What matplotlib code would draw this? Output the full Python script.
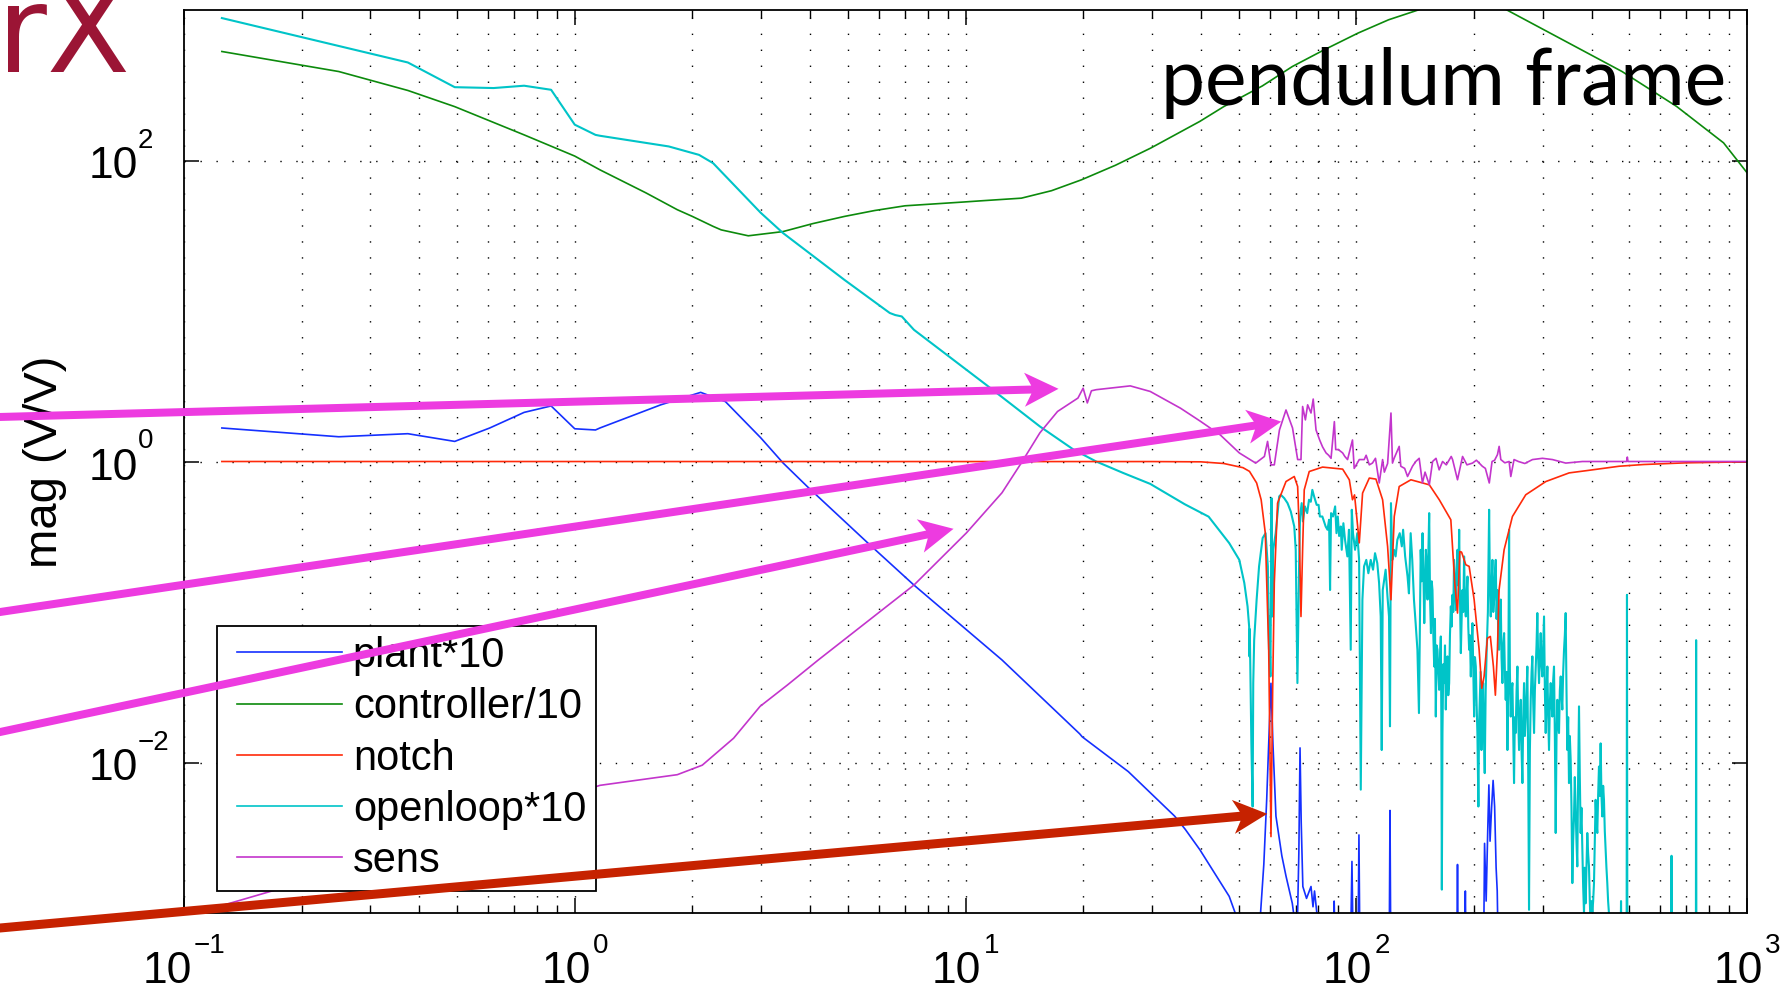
import matplotlib
matplotlib.use("Agg")
import matplotlib.pyplot as plt
from matplotlib.patches import FancyArrow
from matplotlib.lines import Line2D
from matplotlib.legend_handler import HandlerLine2D
from matplotlib.ticker import LogLocator, FixedLocator, NullLocator
from matplotlib.transforms import blended_transform_factory, offset_copy, IdentityTransform
from matplotlib.font_manager import FontProperties
from matplotlib.textpath import TextPath

W, H, DPI = 1786, 990, 100

# ---------------------------------------------------------------------------
# Magnitude responses (V/V) against frequency (Hz), as (freq, mag) pairs
# ---------------------------------------------------------------------------
plant = [
    (0.125, 1.67), (0.249, 1.46), (0.374, 1.53), (0.493, 1.36), (0.606, 1.67),
    (0.742, 2.12), (0.87, 2.34), (1.0, 1.65), (1.13, 1.62), (1.16, 1.67),
    (1.66, 2.38), (2.10, 2.88), (2.43, 2.5), (2.99, 1.44), (3.41, 0.98),
    (3.94, 0.68), (5.62, 0.288), (7.38, 0.151), (12.4, 0.048), (19.6, 0.0155),
    (19.9, 0.0148), (26.1, 0.0087), (34.3, 0.0044), (36.5, 0.0036),
    (39.8, 0.00263), (47.3, 0.00129), (49.0, 0.001), (52.0, 0.0006),
    (56.9, 0.001), (58.0, 0.0021), (59.0, 0.0057), (59.7, 0.0134),
    (60.5, 0.0336), (61.2, 0.0134), (62.3, 0.0044), (64.5, 0.0024),
    (66.1, 0.00176), (68.6, 0.00116), (69.5, 0.0009), (70.5, 0.0006),
    (71.3, 0.0025), (71.8, 0.0125), (72.3, 0.004), (73.0, 0.0015),
    (74.6, 0.00125), (76.6, 0.0015), (77.5, 0.0011), (78.2, 0.0014),
    (80.0, 0.0008), (87.4, 0.0007), (87.8, 0.0012), (88.2, 0.0007),
    (96.8, 0.0007), (97.5, 0.0022), (98.1, 0.0007), (101.1, 0.0007),
    (101.6, 0.0033), (102.1, 0.0007), (121.5, 0.0007), (122.0, 0.0048),
    (122.5, 0.0007), (181.0, 0.0007), (181.6, 0.0021), (182.2, 0.0007),
    (189.5, 0.0007), (190.2, 0.0014), (190.8, 0.0007), (212.0, 0.0007),
    (213.0, 0.0029), (215.0, 0.0012), (217.0, 0.0035), (218.5, 0.0071),
    (220.0, 0.003), (222.0, 0.005), (224.0, 0.0076), (226.0, 0.0051),
    (228.0, 0.002), (229.5, 0.0014), (230.5, 0.0007), (1000.0, 0.0007),
]

controller = [
    (0.125, 530), (0.249, 390), (0.374, 292), (0.493, 228), (0.742, 148),
    (1.0, 107), (1.16, 86.7), (1.52, 61), (1.83, 47.1), (2.0, 42.5),
    (2.26, 36.5), (2.37, 34.6), (2.78, 31.6), (3.41, 33.7), (4.07, 38.1),
    (4.9, 42.5), (5.85, 46.5), (7.0, 50), (9.9, 53), (11.0, 54),
    (13.9, 56.2), (16.6, 63), (19.8, 74.4), (24.2, 93), (29.8, 121),
    (39.8, 182), (45.8, 228), (57.5, 313), (68.6, 421), (82.8, 544),
    (101, 702), (121, 861), (144, 1000), (190, 1450), (243, 1000),
    (479, 390), (660, 229), (871, 131), (1000, 83),
]

notch = [
    (0.125, 1.0), (30.0, 0.999), (40.0, 0.995), (45.8, 0.97), (51.3, 0.91),
    (53.3, 0.86), (55.6, 0.72), (57.1, 0.557), (58.5, 0.336), (59.7, 0.0561),
    (60.5, 0.00322), (61.1, 0.03), (61.7, 0.156), (62.9, 0.529), (66.1, 0.736),
    (69.4, 0.795), (70.8, 0.682), (71.5, 0.336), (72.2, 0.0933), (72.9, 0.259),
    (73.6, 0.648), (75.8, 0.858), (82.0, 0.918), (92.3, 0.890), (96.0, 0.756),
    (97.8, 0.557), (99.0, 0.6), (101.8, 0.288), (103.8, 0.617), (108.0, 0.776),
    (112.3, 0.764), (116.8, 0.557), (120.3, 0.272), (122.7, 0.1205),
    (125.1, 0.431), (128.8, 0.682), (138.0, 0.756), (153.8, 0.700),
    (163.1, 0.557), (174.6, 0.410), (178.7, 0.156), (181.6, 0.0984),
    (184.1, 0.252), (186.0, 0.25), (190.7, 0.206), (194.5, 0.201),
    (200.3, 0.121), (206.3, 0.0561), (209.5, 0.0311), (212.4, 0.0373),
    (216.6, 0.067), (220.4, 0.0688), (224.4, 0.0434), (227.0, 0.028),
    (229.8, 0.0561), (232.0, 0.140), (239.0, 0.259), (251.0, 0.431),
    (271.5, 0.601), (305.6, 0.736), (350.6, 0.84), (389.0, 0.87),
    (470.6, 0.93), (544.0, 0.955), (700.0, 0.98), (1000.0, 0.995),
]

openloop = [
    (0.125, 884), (0.374, 448), (0.493, 307), (0.62, 303), (0.742, 314),
    (0.87, 295), (1.0, 173), (1.13, 148), (1.16, 146), (1.74, 124),
    (2.08, 109), (2.26, 96), (2.99, 45), (3.41, 33), (4.9, 16.1), (6.4, 9.7),
    (6.61, 9.4), (6.87, 9.2), (7.38, 7.5), (11.3, 3.23), (15.5, 1.71),
    (18.9, 1.2), (21.6, 1.0), (25.3, 0.84), (29.7, 0.71), (36.4, 0.52),
    (41.9, 0.43), (45.8, 0.32), (47.3, 0.287), (50.2, 0.222), (51.7, 0.156),
    (52.7, 0.109), (53.2, 0.080), (53.3, 0.0507), (53.4, 0.077),
    (53.9, 0.0134), (54.3, 0.0051), (54.5, 0.0337), (54.8, 0.0653),
    (55.6, 0.121), (56.4, 0.201), (57.6, 0.310), (58.6, 0.334), (59.0, 0.259),
    (59.4, 0.201), (59.8, 0.0561), (59.9, 0.0934), (60.3, 0.0373),
    (60.5, 0.156), (60.7, 0.571), (61.0, 0.0934), (61.3, 0.259),
    (62.2, 0.334), (63.5, 0.586), (64.1, 0.601), (65.4, 0.571), (66.7, 0.529),
    (68.0, 0.465), (69.4, 0.370), (70.0, 0.259), (70.7, 0.0337),
    (71.4, 0.201), (71.8, 0.431), (72.5, 0.529), (73.0, 0.400), (73.9, 0.503),
    (74.9, 0.454), (75.7, 0.557), (76.5, 0.54), (77.2, 0.648), (78.0, 0.586),
    (79.2, 0.515), (80.1, 0.515), (80.7, 0.431), (81.9, 0.431), (83.5, 0.370),
    (84.4, 0.352), (85.2, 0.410), (85.7, 0.140), (86.2, 0.454), (87.2, 0.431),
    (88.3, 0.503), (89.0, 0.334), (89.7, 0.431), (90.4, 0.32), (91.3, 0.370),
    (91.8, 0.259), (92.7, 0.389), (93.6, 0.302), (94.9, 0.234), (95.8, 0.352),
    (96.8, 0.0561), (97.4, 0.478), (98.1, 0.334), (99.3, 0.259),
    (100.6, 0.334), (101.7, 0.222), (102.7, 0.0066), (103.7, 0.121),
    (104.7, 0.201), (106.1, 0.222), (107.4, 0.181), (108.9, 0.222),
    (110.4, 0.191), (111.7, 0.246), (113.2, 0.211), (114.4, 0.156),
    (115.5, 0.0934), (116.2, 0.0121), (116.9, 0.140), (118.2, 0.172),
    (118.9, 0.191), (120.2, 0.127), (121.3, 0.0934), (122.0, 0.0174),
    (122.7, 0.529), (123.7, 0.222), (124.9, 0.259), (126.1, 0.234),
    (127.4, 0.302), (129.2, 0.334), (130.8, 0.273), (131.8, 0.352),
    (133.4, 0.234), (135.3, 0.172), (136.4, 0.133), (137.8, 0.334),
    (139.1, 0.222), (140.5, 0.121), (141.9, 0.0843), (143.4, 0.0561),
    (144.7, 0.0213), (146.2, 0.259), (147.0, 0.16), (147.8, 0.334),
    (148.5, 0.19), (149.3, 0.0843), (150.0, 0.15), (150.7, 0.259),
    (151.5, 0.2), (152.2, 0.121), (153.0, 0.26), (153.7, 0.454),
    (154.5, 0.12), (155.3, 0.0724), (156.0, 0.16), (156.7, 0.140),
    (157.5, 0.07), (158.3, 0.0434), (159.0, 0.09), (159.8, 0.0202),
    (160.6, 0.06), (161.4, 0.0561), (162.2, 0.04), (163.0, 0.0304),
    (163.8, 0.05), (164.6, 0.0688), (165.1, 0.02), (165.6, 0.00143),
    (166.2, 0.0157), (167.0, 0.045), (167.9, 0.0337), (168.7, 0.06),
    (169.5, 0.0225), (170.3, 0.04), (171.2, 0.0507), (172.0, 0.028),
    (172.9, 0.0337), (173.7, 0.07), (174.6, 0.109), (175.4, 0.08),
    (176.3, 0.13), (177.1, 0.1), (178.0, 0.222), (178.9, 0.15),
    (179.8, 0.103), (180.7, 0.18), (181.6, 0.259), (182.5, 0.15),
    (183.4, 0.352), (184.3, 0.12), (185.2, 0.0533), (186.1, 0.09),
    (187.0, 0.140), (187.9, 0.1), (188.8, 0.234), (189.7, 0.12),
    (190.7, 0.0934), (191.6, 0.13), (192.6, 0.172), (193.5, 0.08),
    (194.5, 0.0561), (195.4, 0.07), (196.4, 0.0373), (197.3, 0.06),
    (198.3, 0.0843), (199.3, 0.04), (200.3, 0.0202), (201.3, 0.05),
    (202.3, 0.0434), (203.2, 0.025), (204.2, 0.0157), (205.4, 0.0051),
    (206.2, 0.018), (207.1, 0.0261), (208.1, 0.04), (209.1, 0.0121),
    (210.1, 0.022), (211.2, 0.0337), (212.2, 0.015), (213.2, 0.0085),
    (214.4, 0.03), (215.7, 0.0561), (217.2, 0.1), (218.8, 0.478),
    (219.8, 0.15), (220.9, 0.0934), (222.0, 0.15), (223.1, 0.222),
    (224.2, 0.1), (225.3, 0.121), (226.4, 0.18), (227.5, 0.222),
    (228.6, 0.09), (229.8, 0.140), (230.9, 0.07), (232.0, 0.0561),
    (233.1, 0.09), (234.3, 0.121), (235.4, 0.05), (236.6, 0.0337),
    (237.8, 0.06), (239.0, 0.0724), (240.1, 0.04), (241.3, 0.0261),
    (242.5, 0.04), (243.7, 0.0121), (244.9, 0.03), (246.1, 0.352),
    (247.3, 0.04), (248.5, 0.0202), (249.7, 0.03), (251.0, 0.0337),
    (252.2, 0.015), (253.4, 0.0073), (254.6, 0.02), (255.9, 0.0157),
    (257.2, 0.03), (258.5, 0.0434), (259.7, 0.02), (261.0, 0.0121),
    (262.3, 0.02), (263.6, 0.0261), (264.9, 0.012), (266.2, 0.0073),
    (267.5, 0.02), (268.8, 0.0337), (270.1, 0.015), (271.5, 0.0202),
    (272.8, 0.03), (274.1, 0.0434), (275.4, 0.01), (276.8, 0.00105),
    (278.2, 0.012), (279.6, 0.0261), (281.0, 0.04), (282.3, 0.0507),
    (283.7, 0.025), (285.1, 0.0157), (286.5, 0.03), (287.9, 0.0434),
    (289.3, 0.06), (290.7, 0.0984), (292.1, 0.05), (293.6, 0.0337),
    (295.0, 0.05), (296.5, 0.0724), (297.9, 0.045), (299.4, 0.0373),
    (300.9, 0.06), (302.4, 0.0934), (303.9, 0.03), (305.4, 0.0157),
    (306.9, 0.03), (308.4, 0.0434), (309.9, 0.02), (311.4, 0.0121),
    (313.0, 0.025), (314.5, 0.0337), (316.0, 0.025), (317.6, 0.0202),
    (319.1, 0.035), (320.7, 0.0434), (322.3, 0.015), (323.9, 0.0034),
    (325.5, 0.015), (327.1, 0.0261), (328.7, 0.018), (330.3, 0.0157),
    (331.9, 0.03), (333.6, 0.0373), (335.2, 0.028), (336.8, 0.0225),
    (338.5, 0.04), (340.2, 0.0561), (341.8, 0.07), (343.5, 0.0984),
    (345.2, 0.03), (346.9, 0.0121), (348.6, 0.02), (350.3, 0.0073),
    (352.0, 0.015), (353.8, 0.0104), (355.5, 0.005), (357.3, 0.00158),
    (359.0, 0.003), (360.8, 0.00438), (362.5, 0.008), (364.3, 0.00485),
    (366.1, 0.003), (367.9, 0.00204), (369.7, 0.008), (371.6, 0.0236),
    (373.4, 0.008), (375.2, 0.0034), (377.0, 0.005), (378.9, 0.00263),
    (380.8, 0.0015), (382.7, 0.001), (384.5, 0.002), (386.4, 0.00116),
    (388.3, 0.002), (390.2, 0.0034), (392.1, 0.0025), (394.1, 0.00204),
    (396.0, 0.0012), (398.0, 0.0008), (399.9, 0.0012), (401.9, 0.001),
    (403.9, 0.0012), (405.9, 0.00158), (407.8, 0.003), (409.8, 0.00565),
    (411.8, 0.004), (413.9, 0.0034), (415.9, 0.006), (418.0, 0.0094),
    (420.0, 0.006), (422.1, 0.0134), (424.2, 0.006), (426.3, 0.00438),
    (428.4, 0.007), (430.5, 0.00565), (432.6, 0.0035), (434.7, 0.00263),
    (436.8, 0.002), (439.0, 0.00158), (441.1, 0.0012), (443.3, 0.001),
    (447.0, 0.0007), (475.0, 0.0007), (476.0, 0.0012), (477.0, 0.0007),
    (492.0, 0.0007), (493.0, 0.13), (494.0, 0.0007), (640.0, 0.0007),
    (641.0, 0.0024), (642.0, 0.0007), (740.0, 0.0007), (741.0, 0.065),
    (742.0, 0.0007), (1000.0, 0.0007),
]

sens = [
    (0.125, 0.00112), (0.171, 0.00142), (1.16, 0.00705), (1.83, 0.0083),
    (2.12, 0.0096), (2.55, 0.0145), (2.98, 0.0236), (3.5, 0.0327),
    (4.2, 0.048), (7.38, 0.151), (10.06, 0.336), (12.4, 0.62), (13.9, 0.98),
    (15.5, 1.55), (17.2, 2.15), (19.4, 2.64), (20.0, 3.07), (20.5, 2.45),
    (21.0, 2.95), (21.6, 3.0), (26.4, 3.18), (29.7, 2.92), (35.5, 2.26),
    (39.8, 1.86), (44.9, 1.5), (50.2, 1.14), (55.3, 0.976), (58.2, 1.08),
    (59.3, 1.36), (60.5, 0.95), (61.7, 0.95), (63.6, 1.62), (66.1, 2.2),
    (68.7, 1.67), (70.8, 1.03), (72.2, 1.03), (72.9, 2.32), (74.1, 1.89),
    (75.1, 2.38), (76.6, 2.1), (77.6, 2.6), (78.9, 1.62), (80.6, 1.39),
    (82.0, 1.25), (83.7, 1.14), (85.0, 1.1), (86.2, 1.05), (87.9, 1.84),
    (88.6, 1.2), (90.0, 1.2), (92.3, 1.14), (93.5, 1.08), (95.0, 1.03),
    (97.8, 1.39), (98.8, 0.9), (100.0, 0.95), (101.8, 1.03), (104.8, 1.03),
    (106.0, 1.1), (108.0, 0.95), (110.0, 0.976), (112.0, 1.05),
    (114.5, 0.72), (116.8, 1.03), (118.0, 0.85), (120.3, 0.97),
    (122.7, 2.1), (123.8, 0.976), (125.0, 1.05), (128.8, 1.26), (130.0, 0.93),
    (133.0, 0.9), (135.3, 0.795), (139.3, 0.93), (142.0, 1.0), (144.9, 1.05),
    (147.7, 0.72), (150.0, 0.85), (153.8, 0.70), (156.8, 1.0), (160.0, 1.05),
    (163.0, 0.88), (166.3, 1.0), (170.0, 0.95), (175.0, 1.08), (176.4, 1.03),
    (181.6, 0.756), (187.1, 1.08), (192.0, 0.95), (198.4, 0.976),
    (203.0, 1.02), (210.2, 0.93), (214.0, 0.9), (219.0, 0.72), (222.6, 1.0),
    (226.0, 1.02), (229.8, 1.11), (232.1, 1.26), (234.4, 1.03), (240.0, 0.98),
    (246.2, 1.0), (248.6, 0.795), (253.4, 1.03), (260.0, 1.0), (270.0, 0.97),
    (282.5, 1.03), (299.6, 1.05), (317.8, 1.03), (343.7, 0.976),
    (379.2, 1.0), (492.0, 1.0), (494.0, 1.07), (496.0, 1.0), (700.0, 1.0),
    (1000.0, 1.0),
]

series_labels = ["plant*10", "controller/10", "notch", "openloop*10", "sens"]
x_tick_exponents = [-1, 0, 1, 2, 3]
y_tick_exponents = [-2, 0, 2]

# Callout arrows: tail on the left edge (figure pixels from top), tip in data units
callouts = [
    {"tail": (-20, 417.5), "tip": (17.3, 3.04), "color": "#ED3BE0", "width": 8},
    {"tail": (-20, 615.0), "tip": (64.3, 1.84), "color": "#ED3BE0", "width": 8},
    {"tail": (-20, 736.3), "tip": (9.32, 0.357), "color": "#ED3BE0", "width": 8},
    {"tail": (-20, 929.8), "tip": (59.2, 0.00456), "color": "#C62200", "width": 9},
]

# ---------------------------------------------------------------------------
plt.rcParams["lines.solid_joinstyle"] = "round"
SANS = "Liberation Sans"
TITLE_FONT = "Lato"
TAG_FONT = "DejaVu Sans"

fig = plt.figure(figsize=(W / DPI, H / DPI), dpi=DPI)
ax = fig.add_axes([184 / W, 1 - 913 / H, (1747 - 184) / W, (913 - 10) / H])
ax.set_xscale("log")
ax.set_yscale("log")
ax.set_xlim(1e-1, 1e3)
ax.set_ylim(1e-3, 1e3)

styles = [
    ("#1530ff", 2.0, 1.2),   # plant
    ("#0c8a0c", 2.1, 1.2),   # controller
    ("#ff2a0a", 2.3, 1.2),   # notch
    ("#00c4c8", 2.2, 1.5),   # openloop
    ("#c335cc", 2.4, 1.2),   # sens
]
handles = []
for data, (color, z, lw) in zip([plant, controller, notch, openloop, sens], styles):
    f = [p[0] for p in data]
    m = [p[1] for p in data]
    (ln,) = ax.plot(f, m, color=color, lw=lw, zorder=z)
    handles.append(ln)

# dotted grid: every decade and sub-decade in x, major ticks only in y
grid_kw = dict(color="black", linewidth=1.0, linestyle=(0, (1, 10.5)))
ax.grid(True, which="major", axis="both", **grid_kw)
ax.grid(True, which="minor", axis="x", **grid_kw)
ax.set_axisbelow(True)

ax.xaxis.set_major_locator(LogLocator(base=10, numticks=20))
ax.xaxis.set_minor_locator(LogLocator(base=10, subs=range(2, 10), numticks=20))
ax.yaxis.set_major_locator(FixedLocator([10.0 ** e for e in y_tick_exponents]))
ax.yaxis.set_minor_locator(NullLocator())
ax.tick_params(which="both", direction="in", top=True, right=True,
               labelbottom=False, labelleft=False, color="black")
ax.tick_params(which="major", length=11, width=1.1)
ax.tick_params(which="minor", length=5.5, width=1.0)
for s in ax.spines.values():
    s.set_linewidth(1.3)

renderer = fig.canvas.get_renderer()


def text_width(s, size, family):
    t = fig.text(0, 0, s, fontsize=size, family=family)
    w = t.get_window_extent(renderer).width
    t.remove()
    return w


def exp_str(e):
    return str(e).replace("-", "\u2212")


BASE, EXP = 32, 20
w10 = text_width("10", BASE, SANS)

# x tick labels: "10" with a raised exponent, centred on the tick as a whole
tx = blended_transform_factory(ax.transData, ax.transAxes)
for e in x_tick_exponents:
    es = exp_str(e)
    we = text_width(es, EXP, SANS)
    gap = 2
    left = -(w10 + gap + we) / 2
    ax.text(10.0 ** e, 0, "10", fontsize=BASE, family=SANS, ha="right", va="baseline",
            transform=offset_copy(tx, x=left + w10, y=-70, units="dots"), clip_on=False)
    ax.text(10.0 ** e, 0, es, fontsize=EXP, family=SANS, ha="left", va="baseline",
            transform=offset_copy(tx, x=left + w10 + gap, y=-40, units="dots"), clip_on=False)

# y tick labels
ty = blended_transform_factory(ax.transAxes, ax.transData)
for e in y_tick_exponents:
    es = exp_str(e)
    ax.text(0, 10.0 ** e, "10", fontsize=BASE, family=SANS, ha="right", va="baseline",
            transform=offset_copy(ty, x=-46, y=-18, units="dots"), clip_on=False)
    ax.text(0, 10.0 ** e, es, fontsize=EXP, family=SANS, ha="left", va="baseline",
            transform=offset_copy(ty, x=-46, y=13, units="dots"), clip_on=False)

fig.text(45 / W, 1 - 462 / H, "mag (V/V)", rotation=90, ha="center", va="center",
         fontsize=34, family=SANS)

leg = ax.legend(handles, series_labels, loc="lower left",
                bbox_to_anchor=(217 / W, 1 - 891 / H), bbox_transform=fig.transFigure,
                prop=FontProperties(family=SANS, size=30), handlelength=2.76,
                handletextpad=0.26, borderpad=0.24, labelspacing=0.27,
                borderaxespad=0, frameon=True, fancybox=False, framealpha=1,
                edgecolor="black", handler_map={Line2D: HandlerLine2D(xpad=0.24)})
leg.get_frame().set_linewidth(1.3)
for lh in leg.get_lines():
    lh.set_linewidth(1.2)


def fitted_text(x_px, baseline_px, s, target_w, family, color):
    t = fig.text(x_px / W, 1 - baseline_px / H, s, fontsize=100, family=family,
                 color=color, ha="left", va="baseline", zorder=6)
    w = t.get_window_extent(renderer).width
    t.set_fontsize(100 * target_w / w)
    return t


def ink_sized_text(ink_left_px, baseline_px, s, ref_glyph, ref_height_px, family, color):
    """Size text so that ref_glyph's inked height is ref_height_px."""
    prop = FontProperties(family=family)
    px_per_unit = DPI / 72.0
    h = TextPath((0, 0), ref_glyph, size=100, prop=prop).get_extents().y1
    size = 100 * ref_height_px / (h * px_per_unit)
    x0 = TextPath((0, 0), s, size=size, prop=prop).get_extents().x0 * px_per_unit
    return fig.text((ink_left_px - x0) / W, 1 - baseline_px / H, s, fontsize=size,
                    family=family, color=color, ha="left", va="baseline", zorder=6)


fitted_text(1161, 105, "pendulum frame", 566, TITLE_FONT, "black")
ink_sized_text(8, 72, "rX", "r", 68, TAG_FONT, "#9B1535")

for c in callouts:
    sx, sy = c["tail"][0], H - c["tail"][1]
    tx_, ty_ = ax.transData.transform(c["tip"])
    fig.add_artist(FancyArrow(sx, sy, tx_ - sx, ty_ - sy, width=c["width"],
                              head_width=34, head_length=34, length_includes_head=True,
                              overhang=0.2, transform=IdentityTransform(),
                              color=c["color"], lw=0, zorder=20))

fig.savefig("out.png", dpi=DPI)
